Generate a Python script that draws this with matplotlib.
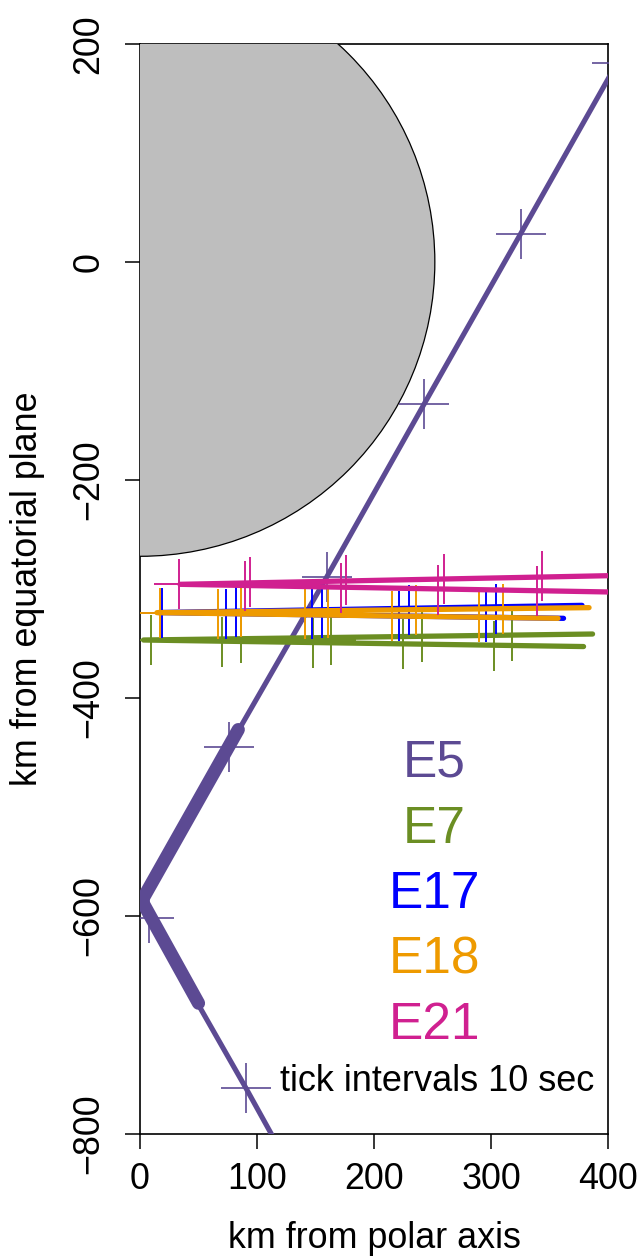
import numpy as np
import matplotlib
matplotlib.use("Agg")
import matplotlib.pyplot as plt
from matplotlib.patches import Ellipse

plt.rcParams['font.family'] = ['Liberation Sans', 'DejaVu Sans']

# Enceladus outline (km), drawn as a visual circle
moon_rx = 252
moon_rz = 270

# E5 trajectory (km from polar axis, km from equatorial plane)
e5_rho = [420, 408, 325.4, 242.7, 159.6, 76, 1.5, 7.7, 90.6, 120]
e5_z = [205.8, 183, 26, -130.6, -289, -445, -586, -602, -758, -815]
# thick part of E5
e5_thick_rho = [84, 1.5, 50]
e5_thick_z = [-429, -586, -680]
# E5 10 s ticks
e5_tick_rho = [408, 325.4, 242.7, 159.6, 76, 7.7, 90.6]
e5_tick_z = [183, 26, -130.6, -289, -445, -602, -758]

# other flybys: path = [outbound end, closest approach, inbound end]
e7_rho = [386.8, 3, 379.1]
e7_z = [-341.3, -346.8, -352.8]
e7_tick_rho = [9.1, 70.3, 147.6, 225.0, 302.6, 86.1, 163.2, 240.8, 317.9]
e7_tick_z = [-347.2, -348.6, -349.5, -350.5, -352.0, -345.0, -346.8, -343.8, -342.9]

e17_rho = [377.8, 16, 362]
e17_z = [-315.0, -321.6, -326.9]
e17_tick_rho = [19.1, 73.5, 146.8, 221.4, 295.7, 82.1, 155.8, 229.9, 304.5]
e17_tick_z = [-322.3, -322.9, -323.2, -325.0, -325.9, -321.4, -321.6, -319.0, -318.2]

e18_rho = [383.8, 14.5, 357.3]
e18_z = [-317.1, -321.7, -326.9]
e18_tick_rho = [17.1, 66.4, 140.8, 215.1, 290.0, 86.3, 160.9, 235.6, 310.0]
e18_tick_z = [-322.3, -322.9, -323.2, -325.0, -325.9, -321.1, -321.6, -319.0, -318.2]

e21_rho = [430, 34.2, 430]
e21_z = [-287.15, -295.7, -303.3]
e21_tick_rho = [33.6, 89.7, 171.5, 255.0, 339.1, 94.0, 176.1, 259.8, 343.8]
e21_tick_z = [-295.5, -297.1, -298.8, -300.5, -302.1, -293.9, -291.7, -290.6, -288.1]

names = ['E5', 'E7', 'E17', 'E18', 'E21']
colors = ['#5C4A93', '#6B8E23', '#0000FF', '#EE9A00', '#D02090']

fig = plt.figure(figsize=(6.44, 12.56), dpi=100)
ax = fig.add_axes([140 / 644, 1 - 1134 / 1256, 468 / 644, 1090 / 1256])

moon = Ellipse((0, 0), 2 * moon_rx, 2 * moon_rz, facecolor='#BEBEBE',
               edgecolor='black', linewidth=0.9, zorder=3)
ax.add_patch(moon)

# E5
c = colors[0]
ax.plot(e5_rho, e5_z, color=c, lw=3.7, solid_capstyle='round',
        solid_joinstyle='round', zorder=4)
ax.plot(e5_thick_rho, e5_thick_z, color=c, lw=9.5, solid_capstyle='round',
        solid_joinstyle='round', zorder=4)
ax.plot(e5_tick_rho, e5_tick_z, '+', color=c, ms=36, mew=1.2, zorder=4)

flybys = [
    (e7_rho, e7_z, e7_tick_rho, e7_tick_z),
    (e17_rho, e17_z, e17_tick_rho, e17_tick_z),
    (e18_rho, e18_z, e18_tick_rho, e18_tick_z),
    (e21_rho, e21_z, e21_tick_rho, e21_tick_z),
]
for i, (rho, z, trho, tz) in enumerate(flybys):
    c = colors[i + 1]
    ax.plot(rho, z, color=c, lw=3.8, solid_capstyle='round',
            solid_joinstyle='round', zorder=5 + i)
    ax.plot(trho, tz, '+', color=c, ms=36, mew=1.4, zorder=5 + i)

# labels
label_z = [-460, -520.5, -580.7, -640.4, -700.9]
for name, c, zz in zip(names, colors, label_z):
    ax.text(251.3, zz, name, color=c, fontsize=37, ha='center', va='center',
            zorder=10)
ax.text(254, -752, 'tick intervals 10 sec', fontsize=26, ha='center',
        va='center', zorder=10)

ax.set_xlim(0, 400)
ax.set_ylim(-800, 200)
ax.set_xticks([0, 100, 200, 300, 400])
ax.set_yticks([-800, -600, -400, -200, 0, 200])
ax.set_yticklabels(['\u2212800', '\u2212600', '\u2212400', '\u2212200', '0', '200'])
ax.tick_params(length=11, width=1.1, labelsize=25.8, pad=9)
ax.tick_params(axis='y', pad=13)
for lab in ax.get_yticklabels():
    lab.set_rotation(90)
    lab.set_va('center')
for sp in ax.spines.values():
    sp.set_linewidth(1.2)
    sp.set_zorder(2)

fig.text(374 / 644, 1 - 1238 / 1256, 'km from polar axis', fontsize=25.8,
         ha='center', va='center')
fig.text(28 / 644, 1 - 589 / 1256, 'km from equatorial plane', fontsize=25.8,
         ha='center', va='center', rotation=90)

fig.savefig('out.png', dpi=100)
